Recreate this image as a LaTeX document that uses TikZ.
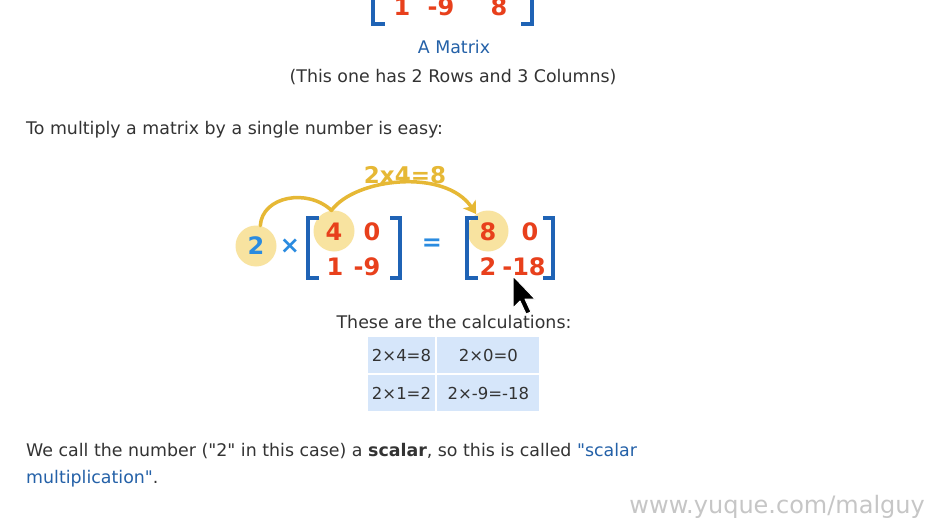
\documentclass[tikz,border=0pt]{standalone}
\usepackage{fontspec}
\setmainfont{DejaVu Sans}[Ligatures=TeXOff]
\usepackage{xcolor}
\usetikzlibrary{arrows.meta,positioning}
\definecolor{entryred}{HTML}{E8401C}
\definecolor{bracketblue}{HTML}{1F63B5}
\definecolor{linkblue}{HTML}{2461A8}
\definecolor{scalarblue}{HTML}{2A8BE0}
\definecolor{gold}{HTML}{E6B835}
\definecolor{spotyellow}{HTML}{F8E3A0}
\definecolor{cellblue}{HTML}{D6E6FA}
\definecolor{bodygray}{HTML}{333333}

\begin{document}
\begin{tikzpicture}[x=1pt,y=-1pt,line cap=round,line join=round,
  num/.style={text=entryred,font=\bfseries\fontsize{24}{24}\selectfont,inner sep=0pt},
  body/.style={text=bodygray,font=\fontsize{17.4}{20}\selectfont,inner sep=0pt},
  spot/.style={circle,fill=spotyellow,minimum size=41pt,inner sep=0pt},
  bracket/.style={draw=bracketblue,line width=3.5pt,line cap=butt,line join=miter},
  cell/.style={fill=cellblue,text=bodygray,font=\fontsize{16.5}{20}\selectfont,minimum height=36pt,inner sep=0pt}]
  \clip (0,0) rectangle (937,527);
  \useasboundingbox (0,0) rectangle (937,527);
  \fill[white] (0,0) rectangle (937,527);

  % matrix at the top, cut off
  \node[num,anchor=base] (t1) at (402,16) {1};
  \node[num,anchor=base] (t2) at (441,16) {-9};
  \node[num,anchor=base] (t3) at (499,16) {8};
  \draw[bracket] (373,-5) -- (373,24) -- (385,24);
  \draw[bracket] (521,24) -- (532,24) -- (532,-5);
  \node[text=linkblue,font=\fontsize{17.4}{20}\selectfont,inner sep=0pt,anchor=base] (title) at (454,54) {A Matrix};
  \node[body,anchor=base] (rows) at (453,82) {(This one has 2 Rows and 3 Columns)};

  \node[body,anchor=base west] (intro) at (26,134) {To multiply a matrix by a single number is easy:};

  % scalar times matrix
  \node[spot] (s2) at (256,246) {};
  \node[spot] (s4) at (334,231) {};
  \node[spot] (s8) at (488,231) {};
  \node[num,text=scalarblue] (k) at (s2) {2};
  \node[num,text=scalarblue] (times) at (290,246) {×};
  \node[num] (a11) at (334,232) {4};
  \node[num] (a12) at (372,232) {0};
  \node[num] (a21) at (335,267) {1};
  \node[num] (a22) at (367,267) {-9};
  \draw[bracket] (319,218) -- (308,218) -- (308,278) -- (319,278);
  \draw[bracket] (390,218) -- (400,218) -- (400,278) -- (390,278);
  \node[num,text=scalarblue] (eq) at (432,245) {=};
  \node[num] (b11) at (488,232) {8};
  \node[num] (b12) at (530,232) {0};
  \node[num] (b21) at (488,267) {2};
  \node[num] (b22) at (524,267) {-18};
  \draw[bracket] (478,218) -- (467,218) -- (467,278) -- (478,278);
  \draw[bracket] (543,218) -- (553,218) -- (553,278) -- (543,278);

  \draw[gold,line width=3.5pt,-{Stealth[length=12pt,width=15pt,inset=3pt]}]
    (s2.78) .. controls (262,196) and (308,188) .. (s4.97)
    .. controls (355,178) and (445,168) .. (s8.125);
  \node[text=gold,font=\bfseries\fontsize{23}{23}\selectfont,inner sep=0pt] (rule) at (405,175) {2x4=8};

  % mouse pointer
  \draw[white,line width=1pt,fill=black] (513,276) -- (513,308) -- (520,301) -- (526,314)
    -- (531,312) -- (525,299) -- (535,299) -- cycle;

  \node[body] (calc) at (454,322) {These are the calculations:};
  \node[cell,minimum width=67pt] (c11) at (401.5,355) {2×4=8};
  \node[cell,minimum width=102pt,right=2pt of c11] (c12) {2×0=0};
  \node[cell,minimum width=67pt,below=2pt of c11] (c21) {2×1=2};
  \node[cell,minimum width=102pt,below=2pt of c12] (c22) {2×-9=-18};

  \node[body,anchor=base west] (line1) at (26,456) {We call the number ("2" in this case) a \textbf{scalar}, so this is called \textcolor{linkblue}{"scalar}};
  \node[body,anchor=base west] (line2) at (26,483) {\textcolor{linkblue}{multiplication"}.};

  \node[text=gray!45,font=\fontsize{24}{24}\selectfont,inner sep=0pt,anchor=base east] (mark) at (925,513) {www.yuque.com/malguy};
\end{tikzpicture}
\end{document}
